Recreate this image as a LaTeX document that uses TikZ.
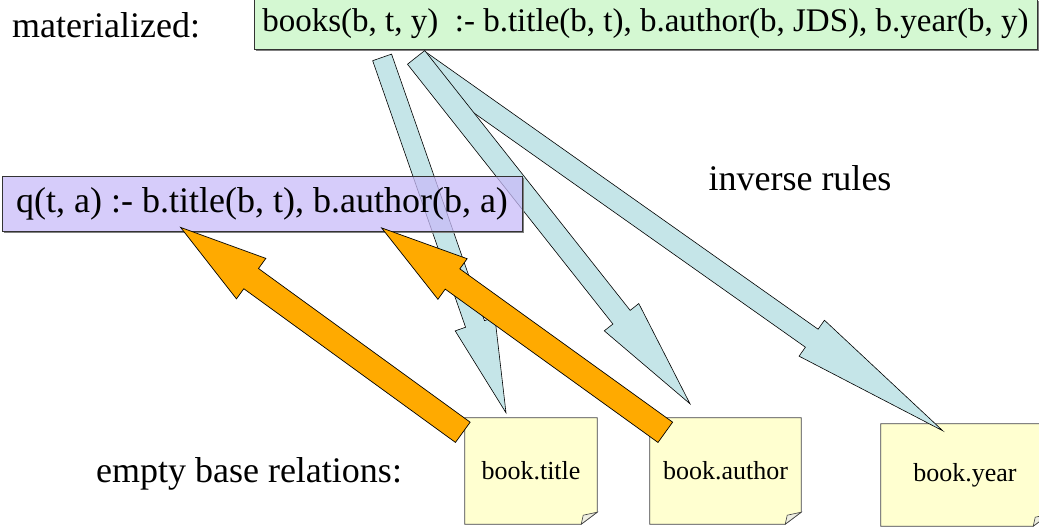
\documentclass[tikz,border=0pt]{standalone}
\usepackage{fontspec}
\setmainfont{Liberation Serif}
\usetikzlibrary{calc}
\definecolor{matgreen}{RGB}{212,248,210}
\definecolor{qpurple}{RGB}{200,187,248}
\definecolor{noteyellow}{RGB}{255,255,208}
\definecolor{foldgray}{RGB}{238,238,226}
\definecolor{arrowblue}{RGB}{197,229,232}
\definecolor{arroworange}{RGB}{255,170,0}
% block arrow: style, tail, tip, half shaft, half head (head = last quarter)
\newcommand{\fatarrow}[5]{
	\path[#1] ($(#2)!#4!90:(#3)$)
		-- ($(#2)!.75!(#3)!#4!90:(#3)$) -- ($(#2)!.75!(#3)!#5!90:(#3)$)
		-- (#3)
		-- ($(#2)!.75!(#3)!#5!-90:(#3)$) -- ($(#2)!.75!(#3)!#4!-90:(#3)$)
		-- ($(#2)!#4!-90:(#3)$) -- cycle;
	}
% sticky note: name, centre, width, height, text
\newcommand{\basenote}[5]{
	\node[notebox, minimum width=#3, minimum height=#4] (#1) at (#2) {#5};
	\fill[white] ([xshift=-16pt]#1.south east) -- (#1.south east) -- ([yshift=12pt]#1.south east) -- cycle;
	\draw[noteline] (#1.north west) -- (#1.north east) -- ([yshift=12pt]#1.south east)
		-- ([xshift=-16pt]#1.south east) -- (#1.south west) -- cycle;
	\draw[notefold] ([yshift=12pt]#1.south east) -- ([shift={(-14pt,9pt)}]#1.south east)
		-- ([xshift=-16pt]#1.south east) -- cycle;
	}
\begin{document}
\begin{tikzpicture}[
      x=1pt, y=-1pt, %pixel grid
      rulebox/.style={draw=black!80, line width=0.8pt, inner sep=0pt},
      boxshadow/.style={draw=black!50, line width=1.4pt},
      labeltext/.style={inner sep=0pt, font=\fontsize{36pt}{40pt}\selectfont},
      notebox/.style={fill=noteyellow, inner sep=0pt, font=\fontsize{26pt}{30pt}\selectfont},
      noteline/.style={draw=black!75, line width=0.8pt},
      notefold/.style={fill=foldgray, draw=black!75, line width=0.6pt},
      bluearrow/.style={fill=arrowblue, draw=black, line width=0.6pt},
      orangearrow/.style={fill=arroworange, draw=black, line width=0.7pt}
    ]
    \useasboundingbox (0,0) rectangle (1039,527);
    \clip (0,0) rectangle (1039,527);
    % materialized view
    \node[labeltext, anchor=base west] (matlab) at (12,38) {materialized:};
    \node[rulebox, fill=matgreen, minimum width=783pt, minimum height=50pt,
          font=\fontsize{33pt}{38pt}\selectfont] (mat) at (645.5,24)
          {books(b, t, y)~ :- b.title(b, t), b.author(b, JDS), b.year(b, y)};
    \draw[boxshadow] ([shift={(2pt,-1.2pt)}]mat.south west) -- ([shift={(1.2pt,-1.2pt)}]mat.south east)
          -- ([shift={(1.2pt,-2pt)}]mat.north east);
    % base relations
    \node[labeltext, anchor=base] (emptylab) at (249,482) {empty base relations:};
    \basenote{title}{531,471}{132pt}{106pt}{book.title};
    \basenote{author}{725.5,471}{151pt}{106pt}{book.author};
    \basenote{year}{965,475}{168pt}{102pt}{book.year};
    % inverse rules
    \node[labeltext, anchor=base] (inv) at (800,190) {inverse rules};
    \coordinate (b1s) at ([shift={(128.5pt,-8pt)}]mat.south west);
    \coordinate (b2s) at ([shift={(162.5pt,-8pt)}]mat.south west);
    \coordinate (b3s) at ([shift={(165pt,-11pt)}]mat.south west);
    \coordinate (b1e) at ([shift={(-25pt,5pt)}]title.north);
    \coordinate (b2e) at ([shift={(-35.5pt,14pt)}]author.north);
    \coordinate (b3e) at ([shift={(62pt,-7pt)}]year.north west);
    \fatarrow{bluearrow}{b3s}{b3e}{11pt}{22pt};
    \fatarrow{bluearrow}{b2s}{b2e}{11pt}{22pt};
    \fatarrow{bluearrow}{b1s}{b1e}{10pt}{21pt};
    % query
    \node[rulebox, fill=qpurple, fill opacity=0.75, text opacity=1, minimum width=520pt,
          minimum height=55pt, font=\fontsize{36pt}{40pt}\selectfont] (q) at (262,203.5)
          {q(t, a) :- b.title(b, t), b.author(b, a)};
    \draw[boxshadow] ([shift={(2pt,-1.2pt)}]q.south west) -- ([shift={(1.2pt,-1.2pt)}]q.south east)
          -- ([shift={(1.2pt,-2pt)}]q.north east);
    % base relations feed the query
    \coordinate (o1s) at ([shift={(-2pt,-14.5pt)}]title.north west);
    \coordinate (o2s) at ([shift={(15.5pt,-14.5pt)}]author.north west);
    \coordinate (o1e) at ([shift={(179pt,4pt)}]q.south west);
    \coordinate (o2e) at ([shift={(380pt,3.5pt)}]q.south west);
    \fatarrow{orangearrow}{o1s}{o1e}{12.5pt}{25pt};
    \fatarrow{orangearrow}{o2s}{o2e}{12.5pt}{25pt};
\end{tikzpicture}
\end{document}
